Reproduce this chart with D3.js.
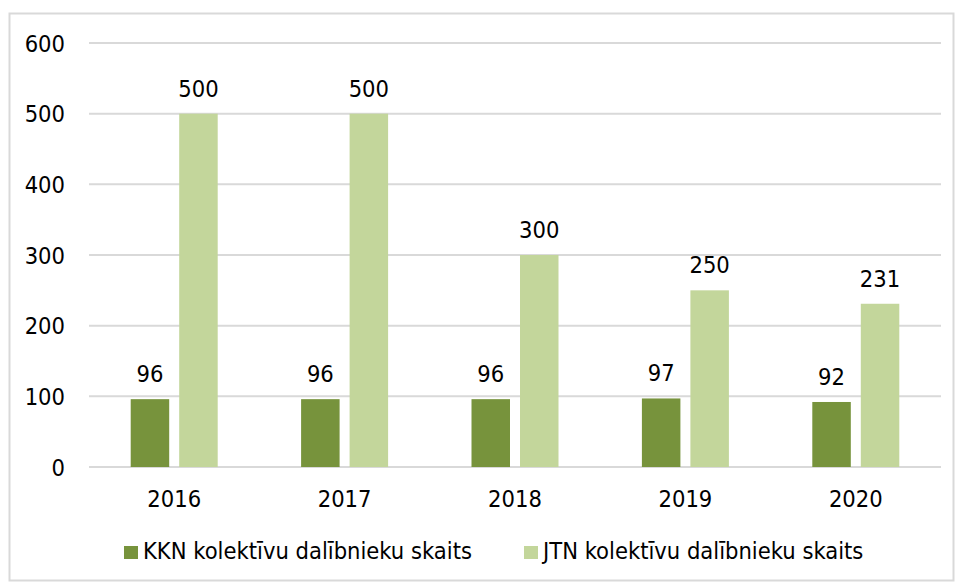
<!DOCTYPE html>
<html>
<head>
<meta charset="utf-8">
<script src="https://cdn.jsdelivr.net/npm/d3@7"></script>
<style>
  body { margin: 0; background: #fff; }
  svg text { font-family: "DejaVu Sans Condensed", "DejaVu Sans", sans-serif; font-stretch: condensed; fill: #000; }
</style>
</head>
<body>
<svg id="container" width="955" height="583"></svg>
<script>
// data
var years = ['2016', '2017', '2018', '2019', '2020'];
var kknValues = [96, 96, 96, 97, 92];
var jtnValues = [500, 500, 300, 250, 231];
var seriesNames = ['KKN kolektīvu dalībnieku skaits', 'JTN kolektīvu dalībnieku skaits'];
var yTicks = [0, 100, 200, 300, 400, 500, 600];

var colors = ['#77933c', '#c3d69b'];
var fontSize = 23.5;

var svg = d3.select('#container');

// outer chart border
svg.append('rect')
    .attr('x', 9.5).attr('y', 13.5)
    .attr('width', 944).attr('height', 567)
    .attr('fill', 'none')
    .attr('stroke', '#d9d9d9')
    .attr('stroke-width', 2);

// plot area
var margin = {top: 43, left: 89, right: 14, bottom: 116};
var innerWidth = 955 - margin.left - margin.right;
var innerHeight = 583 - margin.top - margin.bottom;

var chart = svg.append('g')
    .attr('transform', `translate(${margin.left}, ${margin.top})`);

var x = d3.scaleBand().domain(years).range([0, innerWidth]);
var y = d3.scaleLinear().domain([0, 600]).range([innerHeight, 0]);

// gridlines
chart.append('g')
  .selectAll('line')
    .data(yTicks)
  .enter().append('line')
    .attr('x1', 0).attr('x2', innerWidth)
    .attr('y1', d => y(d)).attr('y2', d => y(d))
    .attr('stroke', '#d9d9d9')
    .attr('stroke-width', 2);

// y tick labels
chart.append('g')
  .selectAll('text')
    .data(yTicks)
  .enter().append('text')
    .attr('x', -24)
    .attr('y', d => y(d) + 8.5)
    .attr('text-anchor', 'end')
    .attr('font-size', fontSize)
    .text(d => d);

// x tick labels
chart.append('g')
  .selectAll('text')
    .data(years)
  .enter().append('text')
    .attr('x', d => x(d) + x.bandwidth()/2)
    .attr('y', innerHeight + 40)
    .attr('text-anchor', 'middle')
    .attr('font-size', fontSize)
    .text(d => d);

// bars + value labels
var barW = 38.5, gap = 10;
var series = [kknValues, jtnValues];
series.forEach(function(vals, s){
  var offset = s === 0 ? -gap/2 - barW : gap/2;
  var g = chart.append('g');
  g.selectAll('rect')
      .data(vals)
    .enter().append('rect')
      .attr('x', (d, i) => x(years[i]) + x.bandwidth()/2 + offset)
      .attr('y', d => y(d))
      .attr('width', barW)
      .attr('height', d => innerHeight - y(d))
      .attr('fill', colors[s]);
  g.selectAll('text')
      .data(vals)
    .enter().append('text')
      .attr('x', (d, i) => x(years[i]) + x.bandwidth()/2 + offset + barW/2)
      .attr('y', d => y(d) - 17)
      .attr('text-anchor', 'middle')
      .attr('font-size', fontSize)
      .text(d => d);
});

// legend
var legendX = [124, 524];
var legend = svg.append('g');
seriesNames.forEach(function(name, i){
  legend.append('rect')
      .attr('x', legendX[i]).attr('y', 546)
      .attr('width', 14).attr('height', 13)
      .attr('fill', colors[i]);
  legend.append('text')
      .attr('x', legendX[i] + 19)
      .attr('y', 558.5)
      .attr('font-size', fontSize)
      .text(name);
});
</script>
</body>
</html>
